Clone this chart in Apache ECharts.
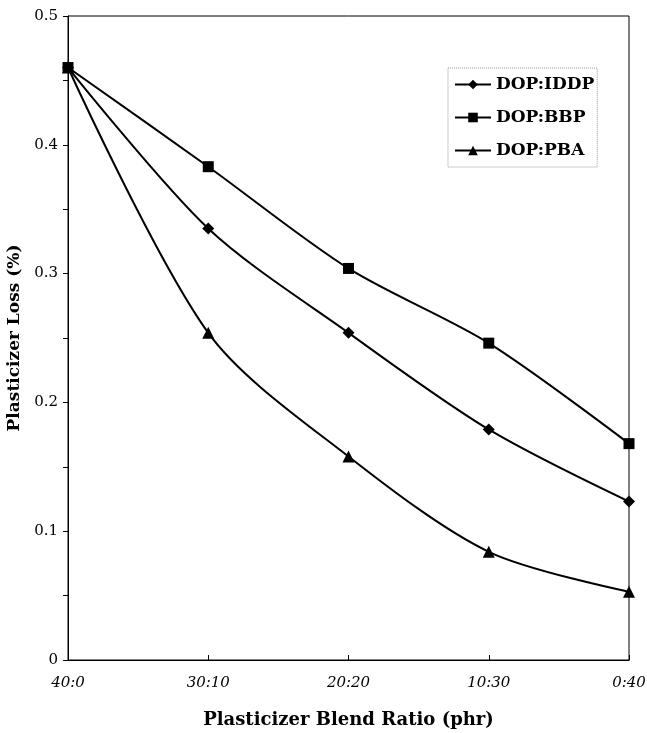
<!DOCTYPE html>
<html><head><meta charset="utf-8">
<script src="https://cdn.jsdelivr.net/npm/echarts@6/dist/echarts.min.js"></script>
<style>html,body{margin:0;padding:0;background:#fff}#c{width:647px;height:733px}</style>
</head><body><div id="c"></div>
<script>
const categories = ['40:0','30:10','20:20','10:30','0:40'];
const iddp = [0.46, 0.335, 0.254, 0.179, 0.123];
const bbp  = [0.46, 0.383, 0.304, 0.246, 0.168];
const pba  = [0.46, 0.254, 0.158, 0.084, 0.053];
const seriesNames = ['DOP:IDDP','DOP:BBP','DOP:PBA'];

const serif = 'DejaVu Serif';
const chart = echarts.init(document.getElementById('c'), null, {renderer:'canvas'});
function mk(name, data, symbol, size){
  return {name, type:'line', data, symbol, symbolSize:size, smooth:0.3,
    showSymbol:true, lineStyle:{color:'#000', width:2}, itemStyle:{color:'#000'}};
}
chart.setOption({
  animation:false,
  grid:{left:68, right:18, top:16, bottom:73, show:true, borderColor:'#000', borderWidth:1,
    containLabel:false, outerBoundsMode:'none'},
  legend:{orient:'vertical', left:448, top:68, itemWidth:36, itemHeight:12, itemGap:16,
    padding:[8,3,8,6], borderColor:'#999', borderType:'dotted', borderWidth:1,
    textStyle:{fontFamily:serif, fontWeight:'bold', fontSize:17, color:'#000'},
    data:seriesNames},
  xAxis:{type:'category', data:categories, boundaryGap:false,
    axisLine:{lineStyle:{color:'#000', width:1}},
    axisTick:{inside:true, length:5, lineStyle:{color:'#000'}},
    axisLabel:{fontFamily:serif, fontStyle:'italic', fontSize:15, color:'#000', margin:16},
    name:'Plasticizer Blend Ratio (phr)', nameLocation:'middle', nameGap:51,
    nameTextStyle:{fontFamily:serif, fontWeight:'bold', fontSize:18, color:'#000'}},
  yAxis:{type:'value', min:0, max:0.5, interval:0.1,
    axisLine:{show:true, lineStyle:{color:'#000', width:1}},
    axisTick:{show:true, length:5, lineStyle:{color:'#000'}},
    minorTick:{show:true, splitNumber:2, length:5, lineStyle:{color:'#000'}},
    splitLine:{show:false},
    axisLabel:{fontFamily:serif, fontSize:15, color:'#000', margin:10,
      formatter:v=>String(Math.round(v*10)/10)},
    name:'Plasticizer Loss (%)', nameLocation:'middle', nameGap:45,
    nameTextStyle:{fontFamily:serif, fontWeight:'bold', fontSize:17, color:'#000'}},
  series:[
    mk(seriesNames[0], iddp, 'diamond', 12),
    mk(seriesNames[1], bbp, 'rect', 11),
    mk(seriesNames[2], pba, 'triangle', 12)
  ]
});
</script></body></html>
